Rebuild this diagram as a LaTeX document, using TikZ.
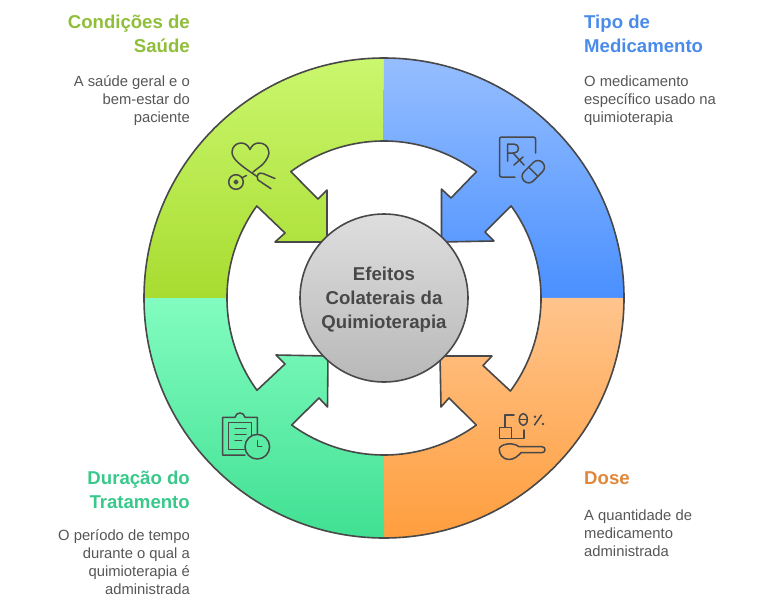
\documentclass[tikz,border=0pt]{standalone}
\usepackage{fontspec}
\usepackage{tikz}
\setmainfont{Liberation Sans}

\definecolor{edgegray}{HTML}{484848}
\definecolor{bodygray}{HTML}{565656}
\definecolor{healthgreen}{HTML}{8FBE3A}
\definecolor{drugblue}{HTML}{4A8BEA}
\definecolor{doseorange}{HTML}{E0873A}
\definecolor{timeteal}{HTML}{38C98A}

\newcommand{\healthedge}{(384,141) arc[start angle=270, end angle=233.6, radius=157]
    -- (318,199) -- (327,190) -- (327,242) -- (275,242) -- (285,233) -- (256.8,206)
    arc[start angle=215.9, end angle=180, radius=157]}
\newcommand{\drugedge}{(541,298) arc[start angle=0, end angle=-35.9, radius=157]
    -- (485,232) -- (494,241) -- (441.5,242) -- (441.5,189) -- (451,198) -- (476.5,171.6)
    arc[start angle=-53.6, end angle=-90, radius=157]}
\newcommand{\doseedge}{(384,455) arc[start angle=90, end angle=54, radius=157]
    -- (449,398) -- (441,407) -- (440,356) -- (492,356) -- (483,365.5) -- (510.4,391)
    arc[start angle=36.4, end angle=0, radius=157]}
\newcommand{\timeedge}{(227,298) arc[start angle=180, end angle=144, radius=157]
    -- (285,364) -- (276,355) -- (328,356) -- (327.5,407) -- (319,398) -- (291.7,425)
    arc[start angle=126, end angle=90, radius=157]}

\begin{document}
\begin{tikzpicture}[x=1pt, y=-1pt,
    edge/.style = {draw=edgegray, line width=1.6pt, line join=round},
    icon/.style = {draw=edgegray, line width=1.5pt, line cap=round, line join=round},
    title/.style = {font=\fontsize{18.6}{24}\selectfont\bfseries, inner sep=0pt},
    body/.style = {font=\fontsize{14.8}{18}\selectfont, text=bodygray, inner sep=0pt}]
    \useasboundingbox (0, 0) rectangle (774, 614);

    % ring pieces, the straight joins between them have no outline
    \shade[top color={rgb,255:red,202;green,247;blue,110}, bottom color={rgb,255:red,168;green,220;blue,48}]
        (144,298) arc[start angle=180, end angle=270, radius=240] -- \healthedge -- cycle;
    \shade[top color={rgb,255:red,150;green,190;blue,255}, bottom color={rgb,255:red,74;green,144;blue,255}]
        (384,58) arc[start angle=270, end angle=360, radius=240] -- \drugedge -- cycle;
    \shade[top color={rgb,255:red,255;green,196;blue,140}, bottom color={rgb,255:red,255;green,158;blue,62}]
        (624,298) arc[start angle=0, end angle=90, radius=240] -- \doseedge -- cycle;
    \shade[top color={rgb,255:red,130;green,252;blue,192}, bottom color={rgb,255:red,64;green,224;blue,146}]
        (384,538) arc[start angle=90, end angle=180, radius=240] -- \timeedge -- cycle;

    \draw[edge] (144,298) arc[start angle=180, end angle=270, radius=240];
    \draw[edge] (384,58) arc[start angle=270, end angle=360, radius=240];
    \draw[edge] (624,298) arc[start angle=0, end angle=90, radius=240];
    \draw[edge] (384,538) arc[start angle=90, end angle=180, radius=240];
    \draw[edge] \healthedge;
    \draw[edge] \drugedge;
    \draw[edge] \doseedge;
    \draw[edge] \timeedge;

    \node[circle, edge, minimum size=168pt, inner sep=0pt,
        top color={rgb,255:red,222;green,222;blue,222}, bottom color={rgb,255:red,184;green,184;blue,184}] (efeitos) at (384, 298) {};
    \node[title, text=edgegray, align=center] (efeitostext) at (384, 300) {Efeitos\\Colaterais da\\Quimioterapia};

    % heart and stethoscope
    \draw[icon] (253,172) -- (262,165) .. controls (268,159) and (269.5,154) .. (268.7,151)
        .. controls (268,146) and (264,143) .. (259,143)
        .. controls (255,143) and (252,145) .. (250,149.5)
        .. controls (248,145) and (245,143) .. (241,143)
        .. controls (236,143) and (232,147) .. (232,152)
        .. controls (232,159) and (240,165) .. (257,176.5);
    \draw[icon] (236,182) circle (7.3);
    \draw[icon] (236,182) circle (1.8);
    \draw[icon] (242.5,177.5) -- (246.5,175.5);
    \draw[icon] (275,178.5) -- (263,173.5) .. controls (259,172) and (255.5,175) .. (258,180) -- (271,188.7);

    % prescription and pill
    \draw[icon, rounded corners=2pt] (515,177) -- (499.5,177) -- (499.5,137) -- (535.5,137) -- (535.5,153);
    \draw[icon] (507.5,161) -- (507.5,144) -- (514,144) .. controls (520,144) and (520,153) .. (514,153) -- (507.5,153);
    \draw[icon] (513,153) -- (524,165);
    \draw[icon] (514,165) -- (523,157);
    \draw[icon, rounded corners=6.3pt, shift={(533.3,171.7)}, rotate=45] (-13,-6.5) rectangle (13,6.5);
    \draw[icon, shift={(533.3,171.7)}, rotate=45] (0,-6.5) -- (0,6.5);

    % boxes, spoon and percent
    \draw[icon] (505,427) -- (505,415) -- (514,415);
    \draw[icon] (499.3,427.3) rectangle (511.7,438.3);
    \draw[icon] (511.7,438.3) -- (524,438.3) -- (524,430);
    \draw[icon] (523.3,419.5) ellipse (4 and 6);
    \draw[icon] (519.3,419.5) -- (527.3,419.5);
    \draw[icon] (534.5,425) -- (541.5,415);
    \fill[edgegray] (535,416.7) circle (1.4) (543,424) circle (1.4);
    \draw[icon] (499.3,448) .. controls (503,443) and (514,442.5) .. (519,446.7) -- (542,446.7)
        .. controls (546,446.7) and (546,452.7) .. (542,452.7) -- (521,452.7)
        .. controls (518,456) and (514,459.5) .. (509,459.5)
        .. controls (503,459.5) and (498.5,454) .. (499.3,448);

    % clipboard and clock
    \draw[icon] (245,455) -- (222.7,455) -- (222.7,417.3) -- (235,417.3)
        .. controls (236,411.5) and (244,411.5) .. (245,417.3) -- (257.3,417.3) -- (257.3,434.5);
    \draw[icon] (245,449.3) -- (228.7,449.3) -- (228.7,422.7) -- (251.7,422.7) -- (251.7,436);
    \draw[icon] (235,428.3) -- (246,428.3);
    \draw[icon] (235,434.3) -- (246,434.3);
    \draw[icon] (235,440.7) -- (241.7,440.7);
    \draw[icon] (257.3,446.7) circle (12.3);
    \draw[icon] (257.3,440.7) -- (257.3,446.7) -- (261.7,446.7);

    \node[title, text=healthgreen, align=right, anchor=east] (saudetitle) at (190, 34) {Condições de\\Saúde};
    \node[body, align=right, anchor=east] (saudetext) at (190, 101) {A saúde geral e o\\bem-estar do\\paciente};

    \node[title, text=drugblue, align=left, anchor=west] (tipotitle) at (584, 34) {Tipo de\\Medicamento};
    \node[body, align=left, anchor=west] (tipotext) at (584, 101) {O medicamento\\específico usado na\\quimioterapia};

    \node[title, text=doseorange, align=left, anchor=west] (dosetitle) at (584, 478) {Dose};
    \node[body, align=left, anchor=west] (dosetext) at (584, 533) {A quantidade de\\medicamento\\administrada};

    \node[title, text=timeteal, align=right, anchor=east] (duracaotitle) at (190, 490) {Duração do\\Tratamento};
    \node[body, align=right, anchor=east] (duracaotext) at (190, 562.5) {O período de tempo\\durante o qual a\\quimioterapia é\\administrada};
\end{tikzpicture}
\end{document}
